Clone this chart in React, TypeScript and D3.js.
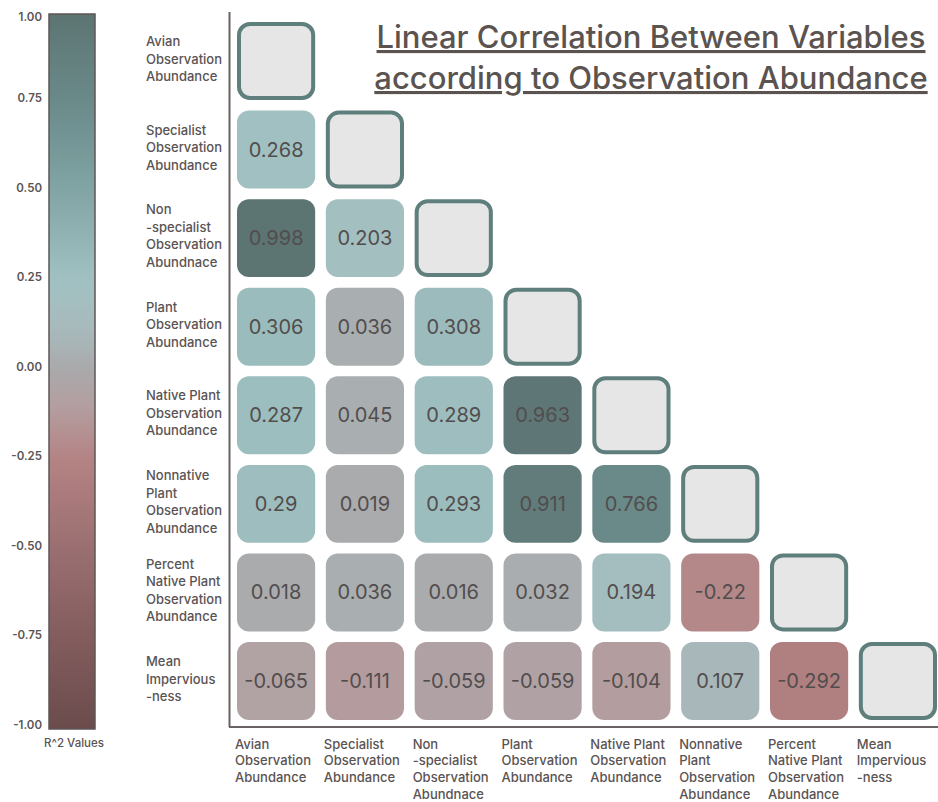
import React from "react";
import * as d3 from "d3";

const variables: string[][] = [
  ["Avian", "Observation", "Abundance"],
  ["Specialist", "Observation", "Abundance"],
  ["Non", "-specialist", "Observation", "Abundnace"],
  ["Plant", "Observation", "Abundance"],
  ["Native Plant", "Observation", "Abundance"],
  ["Nonnative", "Plant", "Observation", "Abundance"],
  ["Percent", "Native Plant", "Observation", "Abundance"],
  ["Mean", "Impervious", "-ness"],
];

// lower-triangle values, row i has i entries (columns 0..i-1)
const row1 = [0.268];
const row2 = [0.998, 0.203];
const row3 = [0.306, 0.036, 0.308];
const row4 = [0.287, 0.045, 0.289, 0.963];
const row5 = [0.29, 0.019, 0.293, 0.911, 0.766];
const row6 = [0.018, 0.036, 0.016, 0.032, 0.194, -0.22];
const row7 = [-0.065, -0.111, -0.059, -0.059, -0.104, 0.107, -0.292];
const rows: number[][] = [[], row1, row2, row3, row4, row5, row6, row7];

const colorTicks = [1, 0.75, 0.5, 0.25, 0, -0.25, -0.5, -0.75, -1];
const colorStops = [-1, -0.5, -0.25, -0.1, 0, 0.1, 0.25, 0.5, 0.75, 1];
const colorValues = [
  "#6b4b4c", "#9a6e70", "#b48283", "#b49ea0", "#aaa8aa",
  "#a8b8ba", "#a2c2c3", "#82a5a5", "#6a8b8a", "#5c7472",
];

const FONT = "Inter, 'Noto Sans', sans-serif";
const TEXT = "#5a5353";

export default function App() {
  const W = 938, H = 802;
  const ids = variables.map((_, i) => String(i));
  const x = d3.scaleBand<string>().domain(ids).range([237, 937]).paddingInner(0.12).paddingOuter(0);
  const y = d3.scaleBand<string>().domain(ids).range([22, 720]).paddingInner(0.12).paddingOuter(0);
  const color = d3.scaleLinear<string>().domain(colorStops).range(colorValues).interpolate(d3.interpolateRgb).clamp(true);

  const barY = d3.scaleLinear().domain([1, -1]).range([14, 729]);
  const tickY = d3.scaleLinear().domain([0.75, -1]).range([98, 725]);

  const gradStops = d3.range(0, 1.0001, 0.02);
  const lh = 17.5;
  const clh = 16.8;
  const bw = x.bandwidth();
  const bh = y.bandwidth();

  return (
    <svg width={W} height={H} style={{ display: "block", position: "absolute", left: 0, top: 0, background: "#fff" }}>
      <defs>
        <linearGradient id="cbar" x1="0" y1="0" x2="0" y2="1">
          {gradStops.map((t) => (
            <stop key={t} offset={`${t * 100}%`} stopColor={color(1 - 2 * t)} />
          ))}
        </linearGradient>
      </defs>
      <rect x={0} y={0} width={W} height={H} fill="#fff" />

      {/* color bar */}
      <rect x={49} y={barY(1)} width={46} height={barY(-1) - barY(1)} fill="url(#cbar)" stroke="#5e5656" strokeWidth={1.5} />
      {colorTicks.map((t) => (
        <text key={t} x={42} y={t === 1 ? 17 : tickY(t)} dy="0.35em" textAnchor="end" fontFamily={FONT} fontWeight={600} fontSize={11.5} fill={TEXT}>
          {t.toFixed(2)}
        </text>
      ))}
      <text x={74} y={743} dy="0.35em" textAnchor="middle" fontFamily={FONT} fontWeight={500} fontSize={11.5} fill={TEXT}>R^2 Values</text>

      {/* axes */}
      <line x1={229.5} y1={12} x2={229.5} y2={727} stroke="#6a6262" strokeWidth={2} />
      <line x1={229} y1={727} x2={938} y2={727} stroke="#6a6262" strokeWidth={2} />

      {/* title */}
      <g fontFamily={FONT} fontSize={31} fontWeight={500} fill="#5b534f" textAnchor="middle" style={{ textDecoration: "underline" }}>
        <text x={651} y={48}>Linear Correlation Between Variables</text>
        <text x={651} y={89}>according to Observation Abundance</text>
      </g>

      {/* row labels */}
      {variables.map((lines, i) => {
        const cy = (y(String(i)) as number) + bh / 2 - 2;
        const top = cy - ((lines.length - 1) * lh) / 2;
        return (
          <text key={`r${i}`} fontFamily={FONT} fontWeight={500} fontSize={13} fill={TEXT}>
            {lines.map((l, k) => (
              <tspan key={k} x={146} y={top + k * lh} dy="0.35em">{l}</tspan>
            ))}
          </text>
        );
      })}

      {/* column labels */}
      {variables.map((lines, j) => {
        const left = (x(String(j)) as number) - 2;
        return (
          <text key={`c${j}`} fontFamily={FONT} fontWeight={500} fontSize={13} fill={TEXT}>
            {lines.map((l, k) => (
              <tspan key={k} x={left} y={744 + k * clh} dy="0.35em">{l}</tspan>
            ))}
          </text>
        );
      })}

      {/* cells */}
      {rows.map((vals, i) =>
        vals.map((v, j) => {
          const cx = x(String(j)) as number;
          const cy = y(String(i)) as number;
          return (
            <g key={`${i}-${j}`}>
              <rect x={cx} y={cy} width={bw} height={bh} rx={12} ry={12} fill={color(v)} />
              <text x={cx + bw / 2} y={cy + bh / 2} dy="0.35em" textAnchor="middle" fontFamily={FONT} fontSize={20} fill="#524d4d">
                {String(v)}
              </text>
            </g>
          );
        })
      )}

      {/* diagonal */}
      {ids.map((id) => (
        <rect key={`d${id}`} x={(x(id) as number) + 2} y={(y(id) as number) + 2} width={bw - 4} height={bh - 4} rx={11} ry={11}
          fill="#e6e6e6" stroke="#5f7f7d" strokeWidth={4} />
      ))}
    </svg>
  );
}
